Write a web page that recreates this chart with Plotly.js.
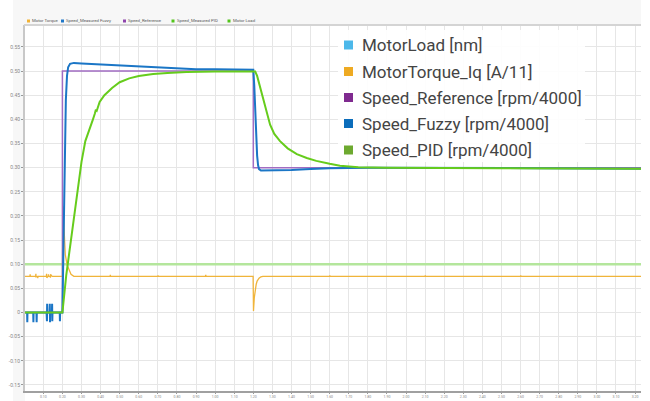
<!DOCTYPE html>
<html><head><meta charset="utf-8">
<script src="https://cdn.plot.ly/plotly-3.0.1.min.js"></script>
<style>html,body{margin:0;padding:0;background:#fff;} #chart{width:650px;height:401px;}</style>
</head><body><div id="chart"></div>
<script>
// ---- data (time in s) ----
var tLoad = [0.004, 3.231];
var motorLoad = [0.1, 0.1];

var tTorque = [0.004,0.030,0.031,0.032,0.060,0.061,0.062,0.070,0.071,0.072,0.116,0.117,0.118,0.126,0.127,0.128,0.136,0.137,0.138,0.146,0.200,0.203,0.208,0.215,0.225,0.235,0.245,0.260,0.450,0.451,0.452,0.700,0.701,0.702,0.950,0.951,0.952,1.199,1.201,1.205,1.210,1.215,1.220,1.230,1.240,1.250,1.600,1.601,1.602,2.100,2.101,2.102,2.600,2.601,2.602,3.231];
var motorTorque = [0.075,0.075,0.079,0.075,0.075,0.080,0.074,0.075,0.071,0.075,0.075,0.080,0.072,0.075,0.079,0.075,0.075,0.072,0.079,0.075,0.075,0.22,0.16,0.12,0.098,0.086,0.079,0.075,0.075,0.078,0.075,0.075,0.077,0.075,0.075,0.078,0.075,0.075,0.003,0.030,0.048,0.058,0.065,0.071,0.074,0.075,0.075,0.077,0.075,0.075,0.077,0.075,0.075,0.077,0.075,0.075];

var tRef = [0.004, 0.2, 0.2, 1.2, 1.2, 3.231];
var speedRef = [0, 0, 0.5, 0.5, 0.3, 0.3];

var tFuzzy = [0.004,0.015,0.016,0.017,0.047,0.048,0.049,0.064,0.065,0.066,0.117,0.118,0.119,0.120,0.121,0.133,0.134,0.135,0.136,0.145,0.146,0.147,0.148,0.186,0.187,0.188,0.200,0.206,0.212,0.218,0.224,0.230,0.240,0.260,0.300,0.400,0.500,0.600,0.700,0.800,0.900,1.000,1.100,1.200,1.205,1.210,1.215,1.220,1.225,1.230,1.240,1.300,1.400,1.500,1.600,1.800,2.200,2.700,3.231];
var speedFuzzy = [0,0,-0.02,0,0,-0.02,0,0,-0.02,0,0,0.018,-0.018,0.018,0,0,0.018,-0.02,0,0,0.018,-0.018,0,0,-0.018,0,0,0.15,0.33,0.44,0.49,0.508,0.515,0.517,0.516,0.514,0.512,0.509,0.507,0.505,0.504,0.504,0.503,0.503,0.47,0.41,0.36,0.325,0.305,0.297,0.294,0.294,0.295,0.297,0.299,0.300,0.300,0.299,0.298];

var tPid = [0.004,0.200,0.220,0.240,0.260,0.280,0.300,0.320,0.340,0.360,0.370,0.375,0.380,0.388,0.395,0.420,0.460,0.500,0.550,0.600,0.675,0.750,0.850,1.000,1.210,1.220,1.230,1.240,1.253,1.270,1.288,1.310,1.340,1.380,1.428,1.480,1.530,1.600,1.654,1.750,1.900,2.500,3.231];
var speedPid = [0,0,0.077,0.138,0.2,0.26,0.312,0.355,0.38,0.40,0.412,0.42,0.418,0.43,0.436,0.45,0.465,0.477,0.485,0.490,0.494,0.496,0.498,0.499,0.499,0.49,0.475,0.455,0.437,0.41,0.389,0.37,0.355,0.34,0.328,0.32,0.314,0.308,0.304,0.301,0.300,0.299,0.298];

var yTickVals = [-0.15,-0.10,-0.05,0,0.05,0.10,0.15,0.20,0.25,0.30,0.35,0.40,0.45,0.50,0.55];
var yTickText = ["-0.15","-0.10","-0.05","0","0.05","0.10","0.15","0.20","0.25","0.30","0.35","0.40","0.45","0.50","0.55"];

var topLegendNames = ["Motor Torque","Speed_Measured Fuzzy","Speed_Reference","Speed_Measured PID","Motor Load"];
var topLegendColors = ["#f2b233","#1f77c8","#8e44ad","#52c41a","#52c41a"];
var bigLegendNames = ["MotorLoad [nm]","MotorTorque_Iq [A/11]","Speed_Reference [rpm/4000]","Speed_Fuzzy [rpm/4000]","Speed_PID [rpm/4000]"];
var bigLegendColors = ["#4cb8ea","#eeaa22","#7f2a8f","#0b6dbb","#6da92f"];

// ---- layout helpers (pixel -> paper) ----
var L = 25, R = 9, T = 25, B = 10, W = 650, H = 401;
var PW = W - L - R, PH = H - T - B;
function fx(px){ return (px - L) / PW; }
function fy(py){ return (H - B - py) / PH; }

var traces = [
  {x: tLoad, y: motorLoad, type: 'scatter', mode: 'lines', line: {color: '#b4e69c', width: 2.5}, showlegend: false, name: 'Motor Load'},
  {x: tTorque, y: motorTorque, type: 'scatter', mode: 'lines', line: {color: '#f0b43a', width: 1.3}, showlegend: false, name: 'Motor Torque'},
  {x: tRef, y: speedRef, type: 'scatter', mode: 'lines', line: {color: '#a16cc2', width: 1.5}, showlegend: false, name: 'Speed_Reference'},
  {x: tFuzzy, y: speedFuzzy, type: 'scatter', mode: 'lines', line: {color: '#1b76c6', width: 2}, showlegend: false, name: 'Speed_Measured Fuzzy'},
  {x: tPid, y: speedPid, type: 'scatter', mode: 'lines', line: {color: '#66cc1c', width: 2}, showlegend: false, name: 'Speed_Measured PID'}
];

var shapes = [
  {type:'rect', xref:'paper', yref:'paper', x0: fx(13), x1: fx(641), y0: fy(25), y1: fy(0), fillcolor:'#f7f7f7', line:{width:0}, layer:'below'},
  {type:'rect', xref:'paper', yref:'paper', x0: fx(13), x1: fx(25), y0: fy(401), y1: fy(25), fillcolor:'#f7f7f7', line:{width:0}, layer:'below'},
  {type:'line', xref:'paper', yref:'paper', x0: fx(24), x1: fx(641), y0: fy(25), y1: fy(25), line:{color:'#d4d4d4', width:2}},
  {type:'rect', xref:'paper', yref:'paper', x0: fx(338), x1: fx(585), y0: fy(162), y1: fy(30), fillcolor:'rgba(255,255,255,0.9)', line:{width:0}, layer:'above'}
];
var annotations = [];
var topSqX = [27, 61, 123, 171.5, 227.5];
for (var i = 0; i < topLegendNames.length; i++) {
  shapes.push({type:'rect', xref:'paper', yref:'paper', x0: fx(topSqX[i]), x1: fx(topSqX[i] + 3), y0: fy(22.5), y1: fy(19.5), fillcolor: topLegendColors[i], line:{width:0}});
  annotations.push({xref:'paper', yref:'paper', x: fx(topSqX[i] + 4.3), y: fy(21), xanchor:'left', yanchor:'middle', showarrow:false,
    text: topLegendNames[i], font:{family:'Roboto, Arial, sans-serif', size:4.3, color:'#555'}, borderpad:0});
}
var bigY = [45, 71.5, 97.5, 123.5, 150];
for (var j = 0; j < bigLegendNames.length; j++) {
  shapes.push({type:'rect', xref:'paper', yref:'paper', x0: fx(344), x1: fx(353), y0: fy(bigY[j] + 4.5), y1: fy(bigY[j] - 4.5), fillcolor: bigLegendColors[j], line:{width:0}, layer:'above'});
  annotations.push({xref:'paper', yref:'paper', x: fx(361), y: fy(bigY[j]), xanchor:'left', yanchor:'middle', showarrow:false,
    text: bigLegendNames[j], font:{family:'Roboto, Arial, sans-serif', size:17, color:'#444'}, borderpad:0});
}

var layout = {
  width: W, height: H,
  margin: {l: L, r: R, t: T, b: B, pad: 0},
  paper_bgcolor: '#ffffff', plot_bgcolor: '#ffffff',
  showlegend: false,
  font: {family: 'Roboto, Arial, sans-serif'},
  xaxis: {range: [0.004, 3.231], tick0: 0.1, dtick: 0.1, tickformat: '.2f', showgrid: true, gridcolor: '#e6e6e6', gridwidth: 1,
          zeroline: false, showline: true, linecolor: '#a0a0a0', linewidth: 1.5, ticks: 'outside', ticklen: 1, tickcolor: '#999',
          tickfont: {size: 3.5, color: '#888'}},
  yaxis: {range: [-0.1626, 0.5955], tickvals: yTickVals, ticktext: yTickText, showgrid: true, gridcolor: '#e6e6e6', gridwidth: 1,
          zeroline: false, showline: true, linecolor: '#c8c8c8', linewidth: 2, ticks: 'outside', ticklen: 2, tickcolor: '#999',
          tickfont: {size: 5, color: '#888'}},
  shapes: shapes,
  annotations: annotations
};

Plotly.newPlot('chart', traces, layout, {staticPlot: true, displayModeBar: false});
</script></body></html>
